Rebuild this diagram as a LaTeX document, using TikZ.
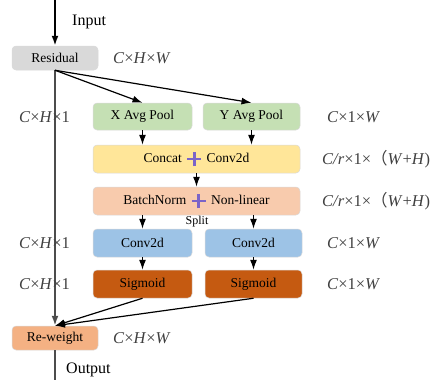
\documentclass[tikz,border=0pt]{standalone}
\usepackage{fontspec}
\setmainfont{Liberation Serif}
\newfontfamily\cjkf{Noto Sans CJK SC}
\usetikzlibrary{arrows.meta}
\definecolor{cgray}{HTML}{D9D9D9}
\definecolor{cgreen}{HTML}{C5E0B4}
\definecolor{cyellow}{HTML}{FFE699}
\definecolor{cpeach}{HTML}{F8CBAD}
\definecolor{cblue}{HTML}{9DC3E6}
\definecolor{cdark}{HTML}{C55A11}
\definecolor{corange}{HTML}{F4B183}
\definecolor{cplus}{HTML}{7B64C8}
\definecolor{clabel}{HTML}{404040}
\newcommand{\bigplus}{\hspace{4pt}\tikz[baseline=-3.2pt]{\draw[cplus,line width=2.6pt] (-7pt,0)--(7pt,0) (0,-7pt)--(0,7pt);}\hspace{4pt}}
\newcommand{\ti}[1]{\textit{#1}}
\begin{document}
\begin{tikzpicture}[x=1pt,y=-1pt,
  box/.style={rounded corners=4pt, draw=white!85!black, line width=0.5pt, inner sep=0pt, font=\fontsize{13.5}{15}\selectfont},
  lbl/.style={text=clabel, font=\fontsize{16.5}{18}\selectfont, inner sep=0pt, anchor=west},
  plain/.style={text=black, font=\fontsize{16}{18}\selectfont, anchor=west, inner sep=0pt},
  arr/.style={-{Latex[length=10pt,width=7pt]}, line width=1.2pt},
  main/.style={line width=1.8pt, draw=black!70}]
\useasboundingbox (0,0) rectangle (440,380);
\node[box, fill=cgray, minimum width=86, minimum height=24] (res) at (55,58) {Residual};
\node[box, fill=cgreen, minimum width=99, minimum height=27] (xp) at (142.5,116.5) {X Avg Pool};
\node[box, fill=cgreen, minimum width=97, minimum height=27] (yp) at (251.5,116.5) {Y Avg Pool};
\node[box, fill=cyellow, minimum width=207, minimum height=28] (cat) at (196.5,159) {Concat\bigplus Conv2d};
\node[box, fill=cpeach, minimum width=207, minimum height=28] (bn) at (196.5,201) {BatchNorm\bigplus Non-linear};
\node[box, fill=cblue, minimum width=99, minimum height=28] (cl) at (142.5,243) {Conv2d};
\node[box, fill=cblue, minimum width=97, minimum height=28] (cr) at (253.5,243) {Conv2d};
\node[box, fill=cdark, minimum width=99, minimum height=28] (sl) at (142.5,284) {Sigmoid};
\node[box, fill=cdark, minimum width=97, minimum height=28] (sr) at (253.5,284) {Sigmoid};
\node[box, fill=corange, minimum width=86, minimum height=24] (rw) at (55,338) {Re-weight};
\coordinate (top) at (55,0);
\coordinate (bot) at (55,380);
% main line
\draw[arr, main, draw=black] (top) -- (res.north);
\draw[arr, main] (res.south) -- (rw.north);
\draw[main] (rw.south) -- (bot);
% labels
\node[plain] (in) at (72,22) {Input};
\node[plain] (out) at (66,370) {Output};
\node[lbl] (l1) at (113,58) {\ti{C}×\ti{H}×\ti{W}};
\node[lbl] (l2) at (19,117) {\ti{C}×\ti{H}×1};
\node[lbl] (l3) at (327,117) {\ti{C}×1×\ti{W}};
\node[lbl] (l4) at (322,159) {\ti{C/r}×1×{\cjkf （}\ti{W}+\ti{H})};
\node[lbl] (l5) at (322,201) {\ti{C/r}×1×{\cjkf （}\ti{W}+\ti{H})};
\node[lbl] (l6) at (19,243) {\ti{C}×\ti{H}×1};
\node[lbl] (l7) at (327,243) {\ti{C}×1×\ti{W}};
\node[lbl] (l8) at (19,284) {\ti{C}×\ti{H}×1};
\node[lbl] (l9) at (327,284) {\ti{C}×1×\ti{W}};
\node[lbl] (l10) at (113,338) {\ti{C}×\ti{H}×\ti{W}};
\node[font=\fontsize{12}{13}\selectfont, inner sep=0pt] (split) at (197,222) {Split};
% arrows
\draw[arr] (res.south) -- (xp.north);
\draw[arr] (res.south) -- (yp.north);
\draw[arr] (xp.south) -- (xp.south |- cat.north);
\draw[arr] (yp.south) -- (yp.south |- cat.north);
\draw[arr] (cat.south) -- (bn.north);
\draw[arr] (bn.south -| cl.north) -- (cl.north);
\draw[arr] (bn.south -| cr.north) -- (cr.north);
\draw[arr] (cl.south) -- (sl.north);
\draw[arr] (cr.south) -- (sr.north);
\draw[arr] (sl.south) -- (rw.north);
\draw[arr] (sr.south) -- (rw.north);
\end{tikzpicture}
\end{document}
